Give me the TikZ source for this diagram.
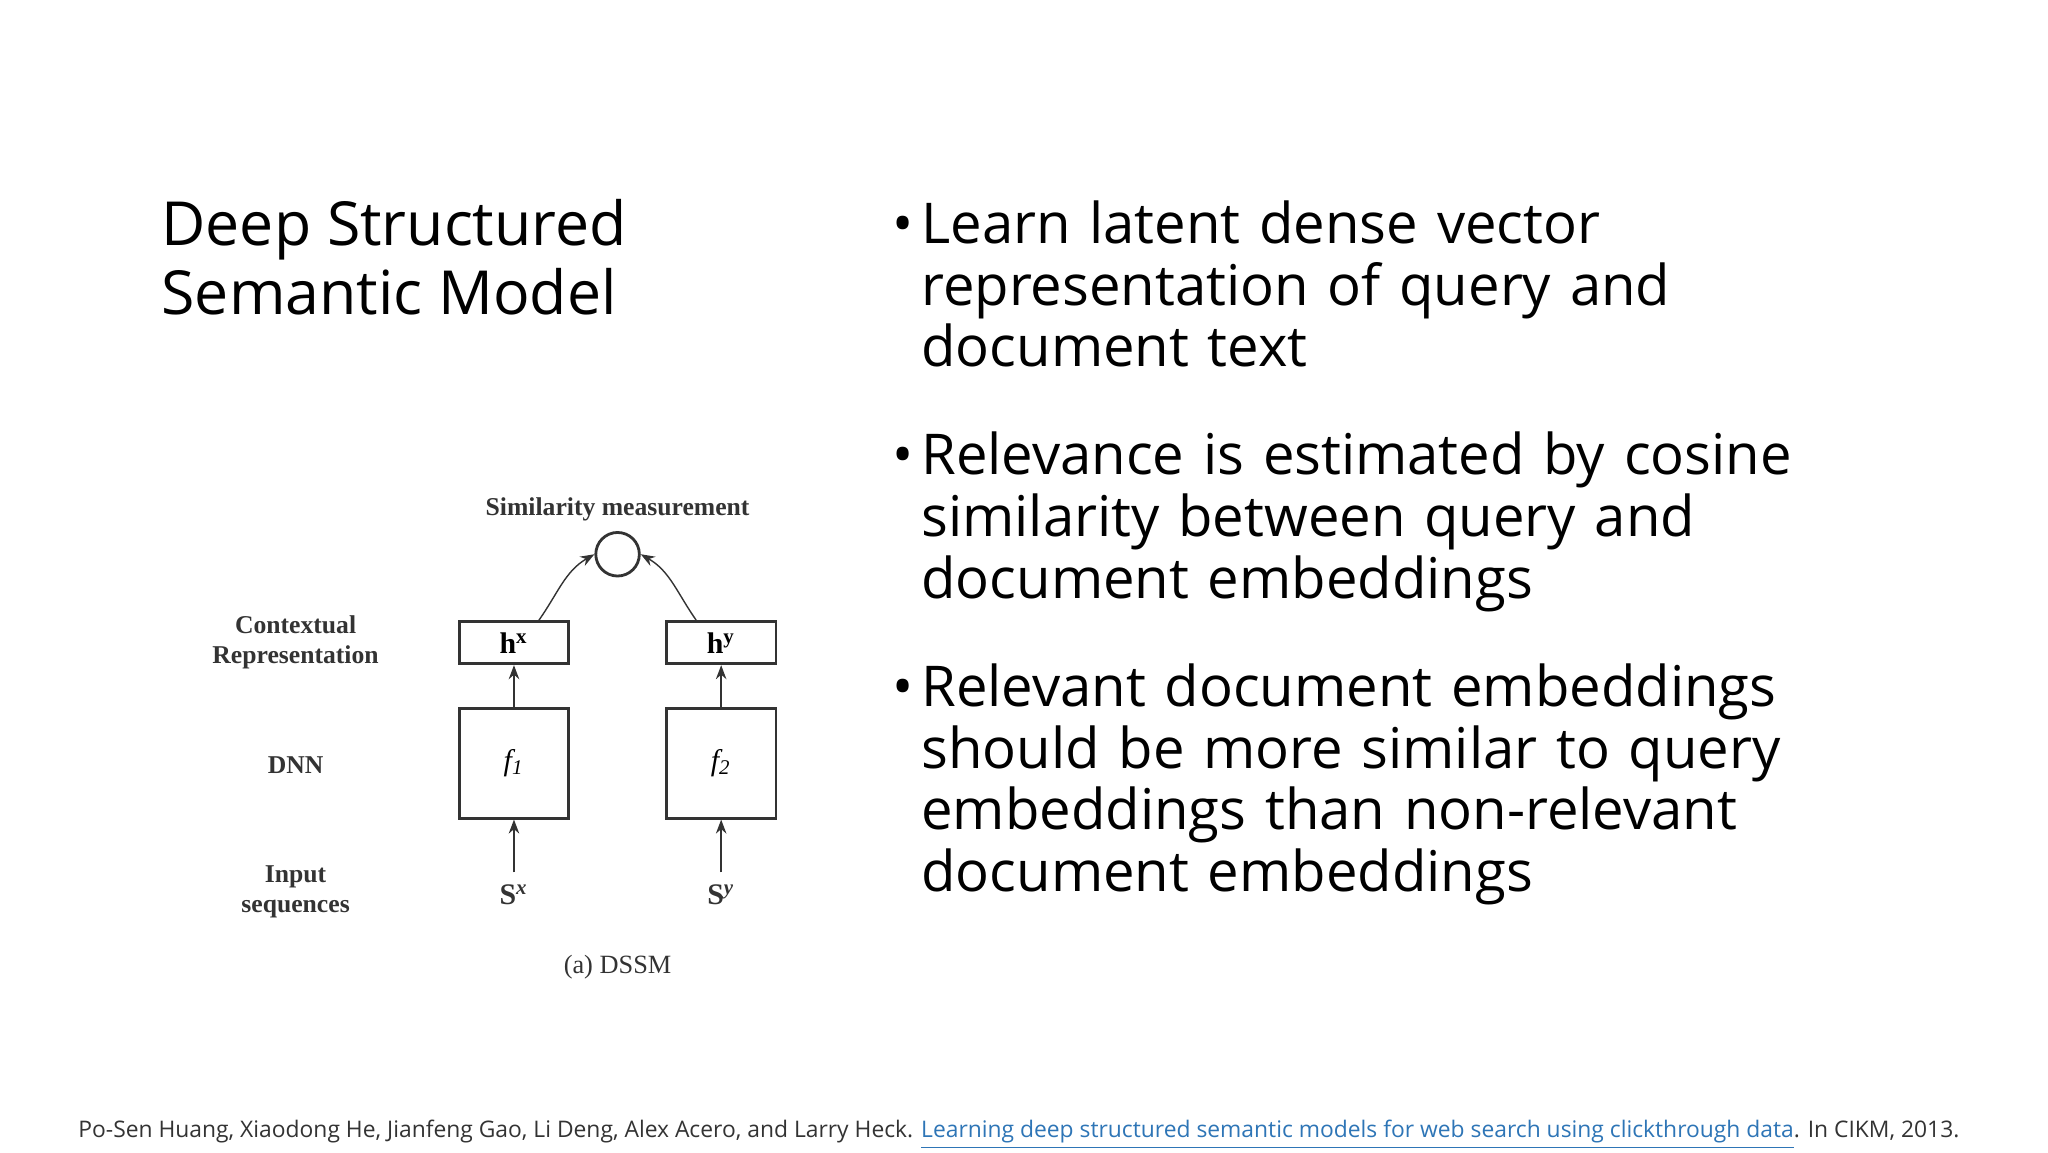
\documentclass[tikz,border=0pt]{standalone}
\usepackage{fontspec}
\setmainfont{Open Sans}
\newfontfamily\serifd{Liberation Serif}
\usetikzlibrary{arrows.meta}
\definecolor{lnk}{HTML}{2E75B6}
\definecolor{dg}{HTML}{333333}
\tikzset{box/.style={draw=dg,thick,minimum width=83*0.0132cm,inner sep=0},
lbl/.style={font=\serifd\bfseries\fontsize{7.3}{8.5}\selectfont,text=dg,align=center},
ar/.style={-{Stealth[length=4pt,width=3pt]},dg,thin}}
\begin{document}
\begin{tikzpicture}[x=0.0132cm,y=-0.0132cm]
\useasboundingbox (0,0) rectangle (1552,873);
\node[anchor=north west,align=left,font=\fontsize{17.3}{19.6}\selectfont] (title) at (113,142) {Deep Structured\\Semantic Model};
\node[anchor=north west,text width=760*0.0132cm,align=left,font=\fontsize{16}{17.6}\selectfont] (b1) at (660,128) {%
\begin{list}{\textbullet}{\leftmargin=0.38cm\labelwidth=0.3cm\labelsep=0.08cm\itemsep=0.46cm\topsep=0pt\parsep=0pt}
\item Learn latent dense vector representation of query and document text
\item Relevance is estimated by cosine similarity between query and document embeddings
\item Relevant document embeddings should be more similar to query embeddings than non-relevant document embeddings
\end{list}};
% diagram
\node[lbl] (sim) at (468,386) {Similarity measurement};
\node[draw=dg,thick,circle,minimum size=33*0.0132cm,inner sep=0] (c) at (468,420) {};
\node[box,minimum height=32*0.0132cm,font=\serifd\bfseries\fontsize{8.5}{9}\selectfont] (hx) at (389.5,487) {h\textsuperscript{x}};
\node[box,minimum height=32*0.0132cm,font=\serifd\bfseries\fontsize{8.5}{9}\selectfont] (hy) at (546.5,487) {h\textsuperscript{y}};
\node[box,minimum height=83*0.0132cm,font=\serifd\itshape\fontsize{8.5}{9}\selectfont] (f1) at (389.5,578.5) {f\textsubscript{1}};
\node[box,minimum height=83*0.0132cm,font=\serifd\itshape\fontsize{8.5}{9}\selectfont] (f2) at (546.5,578.5) {f\textsubscript{2}};
\node[lbl,font=\serifd\bfseries\fontsize{8.5}{9}\selectfont] (sx) at (389.5,678) {S\textsuperscript{\itshape x}};
\node[lbl,font=\serifd\bfseries\fontsize{8.5}{9}\selectfont] (sy) at (546.5,678) {S\textsuperscript{\itshape y}};
\node[lbl] (l1) at (224,487) {Contextual\\Representation};
\node[lbl] (l2) at (224,580) {DNN};
\node[lbl] (l3) at (224,676) {Input\\sequences};
\node[font=\serifd\fontsize{7.5}{9}\selectfont,text=dg] (cap) at (468,733) {(a) DSSM};
\draw[ar] (sx) -- (f1);
\draw[ar] (sy) -- (f2);
\draw[ar] (f1) -- (hx);
\draw[ar] (f2) -- (hy);
\draw[ar] ([xshift=0.25cm]hx.north) to[out=55,in=210] (c.west);
\draw[ar] ([xshift=-0.25cm]hy.north) to[out=125,in=-30] (c.east);
% citation
\node[anchor=west,font=\fontsize{6.5}{8}\selectfont,text=dg] (cit) at (50,860) {Po-Sen Huang, Xiaodong He, Jianfeng Gao, Li Deng, Alex Acero, and Larry Heck. \textcolor{lnk}{\underline{Learning deep structured semantic models for web search using clickthrough data}}. In CIKM, 2013.};
\end{tikzpicture}
\end{document}
